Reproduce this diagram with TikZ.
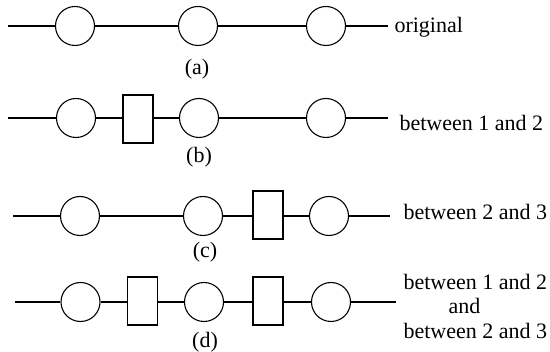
\documentclass[tikz,border=0pt]{standalone}
\usepackage{fontspec}
\setmainfont{Liberation Serif}
\begin{document}
\begin{tikzpicture}[x=1pt, y=-1pt, line width=1.1pt,
  ring/.style={draw, circle, minimum size=39pt, inner sep=0pt},
  block/.style={draw, rectangle, minimum width=30pt, minimum height=48pt, inner sep=0pt},
  lbl/.style={font=\fontsize{22}{24.5}\selectfont, inner sep=0pt, anchor=base west},
  tag/.style={font=\fontsize{22}{24.5}\selectfont, inner sep=0pt, anchor=base}]
\useasboundingbox (0,0) rectangle (550,352);

% (a) original chain
\coordinate (a0) at (8,26);
\node[ring] (a1) at (75,26) {};
\node[ring] (a2) at (198,26) {};
\node[ring] (a3) at (326,26) {};
\coordinate (a4) at (388,26);
\draw (a0) -- (a1) -- (a2) -- (a3) -- (a4);
\node[lbl] (ta) at (394,33) {original};
\node[tag] (la) at (197,75) {(a)};

% (b) insertion between 1 and 2
\coordinate (b0) at (8,118);
\node[ring] (b1) at (76,118) {};
\node[block] (bx) at (138,119) {};
\node[ring] (b2) at (199,118) {};
\node[ring] (b3) at (326,118) {};
\coordinate (b4) at (388,118);
\draw (b0) -- (b1) -- (b1 -| bx.west) (bx.east |- b2) -- (b2) -- (b3) -- (b4);
\node[lbl] (tb) at (399,131) {between 1 and 2};
\node[tag] (lb) at (199,163) {(b)};

% (c) insertion between 2 and 3
\coordinate (c0) at (13,216);
\node[ring] (c1) at (80,216) {};
\node[ring] (c2) at (203,216) {};
\node[block] (cx) at (268,215) {};
\node[ring] (c3) at (329,216) {};
\coordinate (c4) at (390,216);
\draw (c0) -- (c1) -- (c2) -- (c2 -| cx.west) (cx.east |- c3) -- (c3) -- (c4);
\node[lbl] (tc) at (403,220) {between 2 and 3};
\node[tag] (lc) at (205,258) {(c)};

% (d) both insertions
\coordinate (d0) at (15,302);
\node[ring] (d1) at (80.5,302) {};
\node[block] (dx) at (142.5,301) {};
\node[ring] (d2) at (204,302) {};
\node[block] (dy) at (268,301) {};
\node[ring] (d3) at (331,302) {};
\coordinate (d4) at (396,302);
\draw (d0) -- (d1) -- (d1 -| dx.west) (dx.east |- d2) -- (d2) -- (d2 -| dy.west)
      (dy.east |- d3) -- (d3) -- (d4);
\node[lbl] (td1) at (403,290) {between 1 and 2};
\node[tag] (td2) at (464.5,314) {and};
\node[lbl] (td3) at (403,339) {between 2 and 3};
\node[tag] (ld) at (205,348) {(d)};
\end{tikzpicture}
\end{document}
